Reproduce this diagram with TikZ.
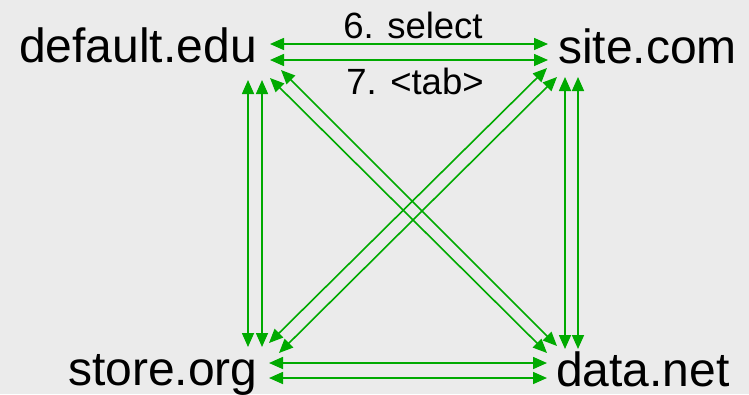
\documentclass[tikz,border=0pt]{standalone}
\usepackage{fontspec}
\setmainfont{Liberation Sans}
\usetikzlibrary{arrows.meta}
\definecolor{bgc}{RGB}{235,235,235}
\definecolor{lnk}{RGB}{0,170,0}
\tikzset{
  site/.style={inner sep=0pt, anchor=base west, font=\fontsize{48}{56}\selectfont},
  lab/.style={inner sep=0pt, anchor=base, font=\fontsize{36.5}{42}\selectfont},
  link/.style={draw=lnk, line width=1.6pt,
    {Triangle[length=14pt,width=12pt]}-{Triangle[length=14pt,width=12pt]}}
}
\begin{document}
\begin{tikzpicture}[x=1pt,y=-1pt]
\fill[bgc] (0,0) rectangle (749,394);
\useasboundingbox (0,0) rectangle (749,394);
% sites
\node[site] (def) at (19,62) {default.edu};
\node[site] (site) at (558,63) {site.com};
\node[site] (store) at (68,385) {store.org};
\node[site] (data) at (556,386) {data.net};
% labels
\node[lab] (l6) at (413,38) {6. select};
\node[lab] (l7) at (415,94) {7. <tab>};
% ports
\coordinate (dH1) at (270,44);  \coordinate (sH1) at (548,44);
\coordinate (dH2) at (270,60);  \coordinate (sH2) at (548,60);
\coordinate (oH1) at (269,363); \coordinate (nH1) at (547,363);
\coordinate (oH2) at (269,378); \coordinate (nH2) at (547,378);
\coordinate (dV1) at (248,80);  \coordinate (oV1) at (248,347);
\coordinate (dV2) at (262,80);  \coordinate (oV2) at (262,347);
\coordinate (sV1) at (565,77);  \coordinate (nV1) at (565,349);
\coordinate (sV2) at (578,77);  \coordinate (nV2) at (578,349);
\coordinate (dD1) at (270,78);  \coordinate (nD1) at (547,353);
\coordinate (dD2) at (281,70);  \coordinate (nD2) at (557,346);
\coordinate (oD1) at (269,343); \coordinate (sD1) at (547,68);
\coordinate (oD2) at (279,353); \coordinate (sD2) at (557,77);
% links
\draw[link] (dH1) -- (sH1);
\draw[link] (dH2) -- (sH2);
\draw[link] (oH1) -- (nH1);
\draw[link] (oH2) -- (nH2);
\draw[link] (dV1) -- (oV1);
\draw[link] (dV2) -- (oV2);
\draw[link] (sV1) -- (nV1);
\draw[link] (sV2) -- (nV2);
\draw[link] (dD1) -- (nD1);
\draw[link] (dD2) -- (nD2);
\draw[link] (oD1) -- (sD1);
\draw[link] (oD2) -- (sD2);
\end{tikzpicture}
\end{document}
